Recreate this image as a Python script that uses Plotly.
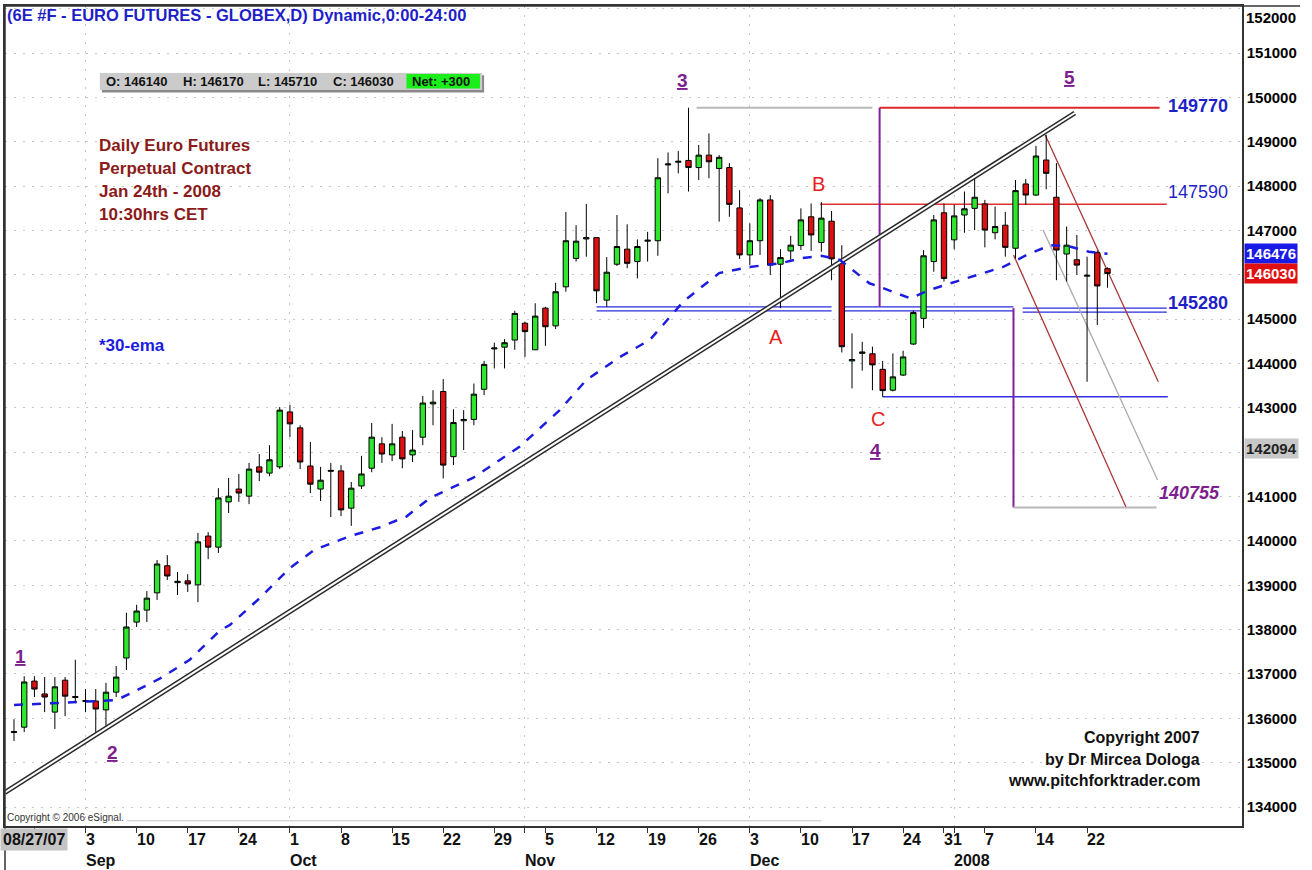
import pandas as pd
import plotly.graph_objects as go

# trading days on the chart (no bar on 25 Dec, 1 Jan and 21 Jan)
days = pd.bdate_range("2007-08-23", "2008-01-24")
days = days.drop(pd.to_datetime(["2007-12-25", "2008-01-01", "2008-01-21"]))

opens = [
    135680, 135800, 136840, 136550, 136140, 136860, 136470, 136380, 136390, 136190,
    136590, 137360, 138170, 138440, 138830, 139440, 139060, 139100, 139010, 140110,
    139860, 140880, 141170, 141010, 141670, 141530, 141670, 142910, 142550, 141690,
    141170, 141570, 141580, 140740, 141240, 141640, 142190, 141940, 142340, 141940,
    142340, 143090, 143370, 141900, 142710, 142740, 143420, 144330, 144370, 144530,
    144910, 144310, 145250, 144850, 145730, 146370, 146810, 146840, 145430, 146240,
    146580, 146300, 146760, 146770, 148480, 148540, 148580, 148420, 148700, 148400,
    148420, 147510, 146450, 146770, 147690, 146240, 146540, 146660, 147310, 146730,
    147210, 146340, 144060, 144230, 144220, 143870, 143400, 143740, 144440, 145020,
    146300, 147400, 146790, 147350, 147500, 147600, 146950, 147120, 146600, 148050,
    147800, 148590, 147750, 146470, 146340, 145970, 146500, 146140,
]
highs = [
    135980, 136950, 136950, 136930, 136930, 136930, 137320, 136660, 136660, 136800,
    137180, 138380, 138560, 138870, 139570, 139680, 139300, 139250, 140180, 140200,
    141190, 141420, 141510, 141760, 141960, 142160, 143020, 143070, 142610, 142230,
    141670, 141760, 141710, 141330, 141920, 142660, 142340, 142640, 142480, 142500,
    143270, 143400, 143650, 142970, 142950, 143550, 144060, 144470, 144550, 145190,
    144940, 145360, 145280, 145820, 147420, 147120, 147600, 146840, 146400, 147350,
    147140, 146800, 146970, 148630, 148760, 148790, 149770, 148930, 149190, 148700,
    148520, 147910, 147160, 147730, 147800, 146580, 146880, 147500, 147610, 147640,
    147440, 146670, 144680, 144490, 144380, 144060, 144230, 144290, 145190, 146560,
    147350, 147610, 147580, 147880, 148290, 147690, 147540, 147420, 148140, 148160,
    148910, 149160, 148520, 147090, 146900, 146410, 146550, 146170,
]
lows = [
    135490, 135690, 136480, 136140, 135760, 136050, 136340, 136140, 135650, 135760,
    136480, 137090, 138060, 138170, 138670, 139120, 138780, 138850, 138620, 139590,
    139730, 140630, 140880, 140830, 141350, 141460, 141620, 142340, 141620, 141080,
    140900, 140540, 140560, 140340, 141170, 141550, 141760, 141800, 141640, 141780,
    142160, 142610, 141410, 141710, 142050, 142610, 143290, 143890, 143890, 144310,
    144150, 144310, 144400, 144780, 145620, 146300, 146410, 145360, 145280, 146200,
    146150, 145920, 146300, 146430, 147840, 148290, 147880, 148140, 148180, 147200,
    147310, 146360, 146220, 146450, 146000, 145250, 146340, 146560, 146540, 146520,
    145880, 144250, 143440, 143840, 143400, 143250, 143370, 143720, 144420, 144800,
    146070, 145850, 146580, 146950, 147010, 146620, 146800, 146410, 146370, 147580,
    147780, 147930, 145880, 145850, 146000, 143590, 144870, 145710,
]
closes = [
    135700, 136820, 136660, 136480, 136710, 136500, 136490, 136400, 136210, 136590,
    136930, 138060, 138420, 138710, 139480, 139210, 139090, 139030, 139980, 139860,
    140970, 141010, 141080, 141620, 141550, 141830, 142950, 142640, 141780, 141280,
    141370, 141590, 140700, 141190, 141510, 142340, 141960, 142190, 141850, 142050,
    143110, 143130, 141710, 142670, 142740, 143310, 143980, 144350, 144470, 145130,
    144720, 145070, 144830, 145620, 146770, 146760, 146840, 145640, 146060, 146640,
    146260, 146640, 146780, 148190, 148500, 148560, 148420, 148700, 148550, 148650,
    147590, 146450, 146770, 147690, 146220, 146390, 146670, 147240, 146900, 147280,
    146360, 144380, 144090, 144260, 143970, 143390, 143700, 144150, 145150, 146430,
    147240, 145920, 147330, 147490, 147750, 147010, 147090, 146620, 147900, 147800,
    148680, 148290, 146560, 146670, 146220, 145990, 145750, 146030,
]

# 30-ema (bar number, price)
ema_bar = [0, 10, 11.4, 14.3, 17.2, 20.2, 21.1, 24, 27, 29.4, 32.9, 35.8, 38.4, 40.7,
           44.9, 49.5, 53.4, 56, 59.3, 62.2, 63.5, 65.5, 69, 72, 75, 76.9, 79, 80.8,
           83.7, 84.7, 87.7, 89.6, 92.6, 94.8, 96.8, 99.2, 101.4, 103.3, 105.2, 107]
ema_price = [136300, 136410, 136560, 136900, 137320, 137990, 138100, 138700, 139390,
             139800, 140110, 140310, 140550, 140970, 141420, 142130, 142950, 143630,
             144150, 144530, 144870, 145400, 146040, 146180, 146260, 146370, 146430,
             146340, 145810, 145730, 145470, 145660, 145880, 146040, 146180, 146460,
             146670, 146640, 146520, 146476]

# long trend line drawn under the lows
trend_bar = [-0.88, 103.8]
trend_price = [134330, 149650]

price_ticks = list(range(134000, 153000, 1000))

FONT = "Liberation Sans, Arial, sans-serif"
BLUE = "#1f1fc8"
PURPLE = "#7d1f8e"
RED = "#e82020"

bars = list(range(len(days)))
week_starts = [i for i in range(1, len(days)) if days[i].weekday() < days[i - 1].weekday()]
month_starts = [i for i in range(1, len(days)) if days[i].month != days[i - 1].month]

fig = go.Figure()

fig.add_trace(go.Scatter(x=trend_bar, y=trend_price, mode="lines",
                         line=dict(color="#2a2a2a", width=5), hoverinfo="skip"))
fig.add_trace(go.Scatter(x=trend_bar, y=trend_price, mode="lines",
                         line=dict(color="white", width=2), hoverinfo="skip"))
fig.add_trace(go.Scatter(x=ema_bar, y=ema_price, mode="lines",
                         line=dict(color="#1c1ce0", width=2.5, dash="dash"), hoverinfo="skip"))

fig.add_trace(go.Candlestick(
    x=bars, open=opens, high=highs, low=lows, close=closes,
    increasing=dict(fillcolor="#2ee62e", line=dict(color="black", width=1)),
    decreasing=dict(fillcolor="#dd1111", line=dict(color="black", width=1)),
    text=[d.strftime("%d %b %Y") for d in days],
))

# drawing-tool lines: x0, y0, x1, y1, colour, width
drawn = [
    (66.8, 149770, 84.0, 149770, "#b8b8b8", 2),
    (84.7, 149770, 112.1, 149770, "#e02828", 2),
    (78.9, 147590, 112.8, 147590, "#e03030", 1.5),
    (57.0, 145280, 80.0, 145280, "#2b2bdb", 1.3),
    (57.0, 145190, 80.0, 145190, "#2b2bdb", 1.3),
    (81.1, 145280, 97.8, 145280, "#2b2bdb", 1.3),
    (81.1, 145190, 97.8, 145190, "#2b2bdb", 1.3),
    (98.7, 145250, 112.8, 145250, "#2b2bdb", 1.3),
    (98.7, 145160, 112.8, 145160, "#2b2bdb", 1.3),
    (85.0, 143250, 112.9, 143250, "#3030e0", 1.5),
    (84.7, 145280, 84.7, 149770, "#80209a", 2),
    (97.8, 140755, 97.8, 145250, "#80209a", 2),
    (97.8, 140755, 111.8, 140755, "#b8b8b8", 2),
    (100.9, 149154, 111.97, 143590, "#a83838", 1.3),
    (100.7, 147011, 111.9, 141374, "#aaaaaa", 1.3),
    (97.8, 146450, 108.8, 140772, "#a83838", 1.3),
    (11.0, 133690, 79.0, 133690, "#c4c4c4", 1),
]
for x0, y0, x1, y1, color, width in drawn:
    fig.add_shape(type="line", x0=x0, y0=y0, x1=x1, y1=y1,
                  line=dict(color=color, width=width), layer="between")

# quote strip at the top left
fig.add_shape(type="rect", x0=8.6, x1=46.0, y0=150110, y1=150500,
              fillcolor="#8a8a8a", line_width=0, layer="above")
fig.add_shape(type="rect", x0=8.4, x1=45.8, y0=150168, y1=150552,
              fillcolor="#cbcbcb", line_width=0, layer="above")
fig.add_shape(type="rect", x0=38.4, x1=45.6, y0=150200, y1=150530,
              fillcolor="#1aef1a", line_width=0, layer="above")
quote = [(12.0, "O: 146140"), (19.5, "H: 146170"), (26.8, "L: 145710"),
         (34.2, "C: 146030"), (41.8, "Net: +300")]
for xq, tq in quote:
    fig.add_annotation(x=xq, y=150360, text="<b>" + tq + "</b>", showarrow=False,
                       font=dict(size=13, color="#111111"))


def note(x, y, text, color, size, xanchor="center", **kw):
    fig.add_annotation(x=x, y=y, text=text, showarrow=False, xanchor=xanchor,
                       font=dict(family=FONT, size=size, color=color), **kw)


note(-0.88, 151860, "<b>(6E #F - EURO FUTURES - GLOBEX,D) Dynamic,0:00-24:00</b>", BLUE, 16.5, "left")

left_text = ["Daily Euro Futures", "Perpetual Contract", "Jan 24th - 2008", "10:30hrs CET"]
for k, line in enumerate(left_text):
    note(8.1, 148928 - k * 520, "<b>" + line + "</b>", "#8b1a1a", 17, "left")
note(8.1, 144418, "<b>*30-ema</b>", "#1c1ce0", 17, "left")

for x, y, t in [(0.6, 137389, "1"), (9.6, 135220, "2"), (65.4, 150390, "3"),
                (84.3, 142050, "4"), (103.3, 150440, "5")]:
    note(x, y, "<b><u>" + t + "</u></b>", PURPLE, 19)
for x, y, t in [(74.6, 144600, "A"), (78.7, 148050, "B"), (84.5, 142760, "C")]:
    note(x, y, t, RED, 20)

note(112.7, 149800, "<b>149770</b>", BLUE, 18, "left")
note(112.7, 147880, "147590", BLUE, 18, "left")
note(112.7, 145365, "<b>145280</b>", BLUE, 18, "left")
note(111.8, 141080, "<b><i>140755</i></b>", PURPLE, 18, "left")

for y, t in [(135579, "Copyright 2007"), (135082, "by Dr Mircea Dologa"),
             (134609, "www.pitchforktrader.com")]:
    note(116.2, y, "<b>" + t + "</b>", "#111111", 16, "right")
note(-0.88, 133775, "Copyright \u00a9 2006 eSignal.", "#333333", 10, "left")

# date labels under the axis
AXIS_FONT = dict(family=FONT, size=16, color="#111111")
fig.add_annotation(xref="paper", x=-0.004, yref="paper", y=-0.017, yanchor="middle",
                   xanchor="left", text="<b>08/27/07</b>", showarrow=False, font=AXIS_FONT,
                   bgcolor="#c4c4c4", borderpad=2)
for i in week_starts[1:]:
    fig.add_annotation(x=i, yref="paper", y=-0.017, yanchor="middle", xanchor="left", xshift=-2,
                       text="<b>%d</b>" % days[i].day, showarrow=False, font=AXIS_FONT)
for i in month_starts:
    label = days[i].strftime("%Y") if days[i].month == 1 else days[i].strftime("%b")
    fig.add_annotation(x=i, yref="paper", y=-0.042, yanchor="middle", xanchor="left", xshift=-2,
                       text="<b>" + label + "</b>", showarrow=False, font=AXIS_FONT)

# price markers on the scale
for y, t, bg, fg in [(151815, "152000", None, "black"),
                     (146476, "146476", "#1a1ae6", "white"),
                     (146030, "146030", "#e01010", "white"),
                     (142094, "142094", "#c8c8c8", "#222222")]:
    fig.add_annotation(xref="paper", x=1.0015, y=y, xanchor="left", text="<b>" + t + "</b>",
                       showarrow=False, bgcolor=bg, borderpad=1,
                       font=dict(family=FONT, size=15, color=fg))

# frame lines outside the plot area
fig.add_shape(type="line", xref="paper", yref="paper", x0=0, x1=1.047, y0=1, y1=1,
              line=dict(color="#333333", width=1.5))
fig.add_shape(type="line", xref="paper", yref="paper", x0=0, x1=0, y0=1, y1=-0.054,
              line=dict(color="#333333", width=1.5))

tick_text = ["" if p in (142000, 152000) else "<b>%d</b>" % p for p in price_ticks]

fig.update_layout(
    width=1312, height=870,
    margin=dict(l=5, r=70, t=6, b=44, autoexpand=False),
    paper_bgcolor="white", plot_bgcolor="white",
    showlegend=False,
    font=dict(family=FONT),
    boxgap=0.25,
    xaxis=dict(
        range=[-0.88, 120.16], rangeslider=dict(visible=False), automargin=False,
        tickvals=month_starts, showticklabels=False,
        ticks="outside", ticklen=5, tickcolor="#333333",
        showgrid=True, gridcolor="#c8c8c8", griddash="2px,7px",
        minor=dict(tickvals=week_starts, ticks="outside", ticklen=5, tickcolor="#333333", showgrid=False),
        showline=True, linecolor="#333333", linewidth=1.5, mirror=True, zeroline=False,
    ),
    yaxis=dict(
        range=[133572, 152063], side="right", automargin=False,
        tickvals=price_ticks, ticktext=tick_text, ticks="",
        tickfont=dict(family=FONT, size=15, color="black"),
        showgrid=True, gridcolor="#c8c8c8", griddash="2px,7px",
        showline=True, linecolor="#333333", linewidth=1.5, mirror=True, zeroline=False,
    ),
)

# the page's default body margin would shift the chart by 8px
fig.write_html("out.html", config={"displayModeBar": False},
               post_script="document.body.style.margin = '0';")
